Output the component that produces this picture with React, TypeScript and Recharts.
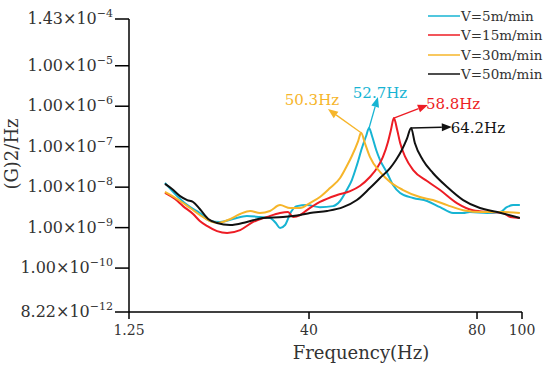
import { LineChart, Line, XAxis, YAxis, Legend, ReferenceLine, ReferenceDot } from "recharts";

const FONT = "'DejaVu Serif', 'Liberation Serif', serif";

// V = 5 m/min
const v5Freq = [5.7, 8.6, 11.7, 14.0, 16.4, 18.8, 21.9, 25.2, 28.3, 30.7, 32.1, 33.1, 34.3, 35.7, 37.1, 39.5, 42.6, 45.7, 47.4, 49.0, 50.2, 51.4, 52.6, 53.6, 54.3, 55.0, 56.0, 56.9, 58.6, 60.0, 61.7, 64.8, 68.1, 71.2, 74.3, 76.7, 78.3, 82.4, 85.5, 87.1, 88.6, 90.2];
const v5Psd = [1.27e-8, 6.0e-9, 3.2e-9, 2.3e-9, 1.46e-9, 1.38e-9, 1.63e-9, 1.94e-9, 1.83e-9, 1.73e-9, 1.3e-9, 9.8e-10, 1.16e-9, 2.43e-9, 3.4e-9, 3.6e-9, 3.2e-9, 3.4e-9, 4.55e-9, 8.5e-9, 1.5e-8, 3.5e-8, 9.3e-8, 1.84e-7, 2.9e-7, 1.84e-7, 8.3e-8, 4.7e-8, 2.24e-8, 1.13e-8, 7.2e-9, 5.4e-9, 4.55e-9, 3.2e-9, 2.3e-9, 2.3e-9, 2.43e-9, 2.3e-9, 2.43e-9, 3.2e-9, 3.6e-9, 3.6e-9];

// V = 15 m/min
const v15Freq = [5.7, 8.1, 10.0, 12.4, 14.0, 15.7, 18.1, 20.5, 23.6, 26.7, 30.0, 33.1, 35.0, 36.2, 37.9, 39.5, 42.6, 46.7, 49.8, 52.1, 54.5, 56.2, 57.6, 58.8, 59.5, 60.2, 61.0, 61.7, 62.9, 64.8, 68.1, 71.2, 75.2, 79.0, 83.1, 86.2, 87.9, 90.2];
const v15Psd = [7.2e-9, 5.1e-9, 3.4e-9, 2.17e-9, 1.46e-9, 1.1e-9, 8.2e-10, 7.4e-10, 8.7e-10, 1.38e-9, 1.83e-9, 2.3e-9, 2.43e-9, 1.83e-9, 2.05e-9, 2.7e-9, 4.3e-9, 6.4e-9, 8.0e-9, 1.07e-8, 1.78e-8, 2.97e-8, 5.6e-8, 1.31e-7, 2.58e-7, 5.1e-7, 2.58e-7, 1.23e-7, 5.6e-8, 2.65e-8, 1.42e-8, 8.5e-9, 4.05e-9, 2.7e-9, 2.43e-9, 2.3e-9, 1.83e-9, 1.73e-9];

// V = 30 m/min
const v30Freq = [5.7, 8.6, 11.7, 14.0, 16.4, 18.3, 20.7, 23.6, 26.0, 28.3, 30.7, 33.1, 35.5, 37.9, 40.2, 42.6, 45.0, 47.4, 49.0, 50.2, 51.7, 52.4, 53.3, 54.5, 56.9, 59.3, 62.4, 66.4, 69.5, 72.9, 76.7, 81.4, 86.2, 90.2];
const v30Psd = [7.6e-9, 5.1e-9, 3.05e-9, 2.05e-9, 1.46e-9, 1.3e-9, 1.54e-9, 2.17e-9, 2.58e-9, 2.3e-9, 2.58e-9, 3.6e-9, 3.05e-9, 3.05e-9, 4.05e-9, 5.7e-9, 9.5e-9, 1.68e-8, 3.33e-8, 5.9e-8, 1.38e-7, 2.2e-7, 1.23e-7, 5.6e-8, 2.37e-8, 1.34e-8, 8.5e-9, 5.7e-9, 4.8e-9, 3.6e-9, 2.7e-9, 2.43e-9, 2.43e-9, 2.3e-9];

// V = 50 m/min
const v50Freq = [5.7, 7.4, 9.3, 11.0, 12.4, 14.0, 16.0, 18.1, 21.2, 25.2, 29.0, 33.8, 37.9, 40.2, 44.3, 48.1, 51.4, 54.5, 56.9, 59.3, 60.7, 62.1, 63.3, 64.3, 65.2, 67.1, 69.5, 72.9, 76.7, 80.7, 84.8, 90.2];
const v50Psd = [1.2e-8, 9.0e-9, 6.0e-9, 4.8e-9, 4.3e-9, 2.88e-9, 1.63e-9, 1.3e-9, 1.16e-9, 1.38e-9, 1.73e-9, 1.83e-9, 2.05e-9, 2.3e-9, 2.58e-9, 3.2e-9, 4.8e-9, 9.5e-9, 1.68e-8, 2.97e-8, 4.7e-8, 8.3e-8, 1.55e-7, 2.9e-7, 1.23e-7, 4.7e-8, 2.24e-8, 1.01e-8, 4.8e-9, 3.05e-9, 2.43e-9, 1.73e-9];

// axes (the x axis of the original is not uniform, so end ticks carry their printed labels)
const xTickValues = [-2.86, 40, 80, 90.71];
const xTickLabels = ["1.25", "40", "80", "100"];
const yTicks = [8.22e-12, 1e-10, 1e-9, 1e-8, 1e-7, 1e-6, 1e-5, 1.43e-4];

// peak annotations: [peak f, peak psd], arrow tip, label centre
const peakLabels = ["50.3Hz", "52.7Hz", "58.8Hz", "64.2Hz"];
const peakPoints = [[52.4, 2.2e-7], [54.3, 2.9e-7], [60.2, 5.1e-7], [64.3, 2.9e-7]];
const arrowTips = [[44.5, 8.5e-7], [56.4, 1.69e-6], [68.3, 1.07e-6], [74.0, 3.06e-7]];
const labelPoints = [[40.7, 1.42e-6], [56.9, 2.12e-6], [74.3, 1.14e-6], [80.2, 2.9e-7]];

const zip = (f: number[], p: number[]) => f.map((x, i) => ({ f: x, psd: p[i] }));

const series = [
  { name: "V=5m/min", color: "#17b4d3", data: zip(v5Freq, v5Psd) },
  { name: "V=15m/min", color: "#ed1c24", data: zip(v15Freq, v15Psd) },
  { name: "V=30m/min", color: "#f6b52a", data: zip(v30Freq, v30Psd) },
  { name: "V=50m/min", color: "#111111", data: zip(v50Freq, v50Psd) },
];
const peakColors = ["#f6b52a", "#17b4d3", "#ed1c24", "#111111"];

const YTick = (props: any) => {
  const { x, y, payload } = props;
  const [m, e] = Number(payload.value).toExponential(2).split("e");
  const exp = String(Number(e)).replace("-", "\u2212");
  return (
    <text x={x} y={y} dy={5} textAnchor="end" fontFamily={FONT} fontSize={16} fill="#333">
      {m}×10
      <tspan dy={-7} fontSize={11}>{exp}</tspan>
    </text>
  );
};

const arrowShape = (color: string) => (props: any) => {
  const { x1, y1, x2, y2 } = props;
  const a = Math.atan2(y2 - y1, x2 - x1);
  const L = 10;
  const W = 4;
  const bx = x2 - L * Math.cos(a);
  const by = y2 - L * Math.sin(a);
  const pts = `${x2},${y2} ${bx + W * Math.sin(a)},${by - W * Math.cos(a)} ${bx - W * Math.sin(a)},${by + W * Math.cos(a)}`;
  return (
    <g>
      <line x1={x1} y1={y1} x2={bx} y2={by} stroke={color} strokeWidth={1.3} />
      <polygon points={pts} fill={color} />
    </g>
  );
};

const renderLegend = () => (
  <div style={{ fontFamily: FONT, fontSize: 13.5, color: "#333" }}>
    {series.map((s) => (
      <div key={s.name} style={{ display: "flex", alignItems: "center", height: 19.5 }}>
        <span style={{ display: "inline-block", width: 32, borderTop: `2px solid ${s.color}`, opacity: 0.75, marginRight: 1 }} />
        {s.name}
      </div>
    ))}
  </div>
);

export default function App() {
  return (
    <div style={{ position: "absolute", left: 0, top: 0 }}>
      <LineChart width={550} height={372} margin={{ top: 19, right: 28, bottom: 0, left: 0 }}>
        <XAxis
          type="number"
          dataKey="f"
          domain={[xTickValues[0], xTickValues[3]]}
          ticks={xTickValues}
          tickFormatter={(v: number) => xTickLabels[xTickValues.indexOf(v)]}
          allowDataOverflow
          height={60}
          tickSize={7}
          tickMargin={6}
          stroke="#000"
          strokeWidth={1.5}
          tick={{ fill: "#333", fontSize: 14, fontFamily: FONT }}
          label={{
            content: (p: any) => (
              <text x={p.viewBox.x + 232} y={p.viewBox.y + 47} textAnchor="middle" fontFamily={FONT} fontSize={18} fill="#333">
                Frequency(Hz)
              </text>
            ),
          }}
        />
        <YAxis
          type="number"
          scale="log"
          domain={[yTicks[0], yTicks[yTicks.length - 1]]}
          ticks={yTicks}
          allowDataOverflow
          width={129}
          tickSize={14}
          tickMargin={2}
          stroke="#000"
          strokeWidth={1.5}
          tick={<YTick />}
          label={{
            content: () => (
              <text x={18} y={154} transform="rotate(-90 18 154)" textAnchor="middle" fontFamily={FONT} fontSize={18} fill="#333">
                (G)2/Hz
              </text>
            ),
          }}
        />
        <Legend
          layout="horizontal"
          verticalAlign="middle"
          align="center"
          content={renderLegend}
          wrapperStyle={{ position: "absolute", top: 6, left: 428, width: 122, height: 80 }}
        />
        {series.map((s) => (
          <Line
            key={s.name}
            data={s.data}
            dataKey="psd"
            name={s.name}
            type="monotone"
            stroke={s.color}
            strokeWidth={2}
            dot={false}
            isAnimationActive={false}
          />
        ))}
        {peakLabels.map((lab, i) => (
          <ReferenceLine
            key={"a" + lab}
            segment={[
              { x: peakPoints[i][0], y: peakPoints[i][1] },
              { x: arrowTips[i][0], y: arrowTips[i][1] },
            ]}
            ifOverflow="visible"
            shape={arrowShape(peakColors[i])}
          />
        ))}
        {peakLabels.map((lab, i) => (
          <ReferenceDot
            key={"l" + lab}
            x={labelPoints[i][0]}
            y={labelPoints[i][1]}
            r={0}
            fill="none"
            stroke="none"
            ifOverflow="visible"
            label={{ value: lab, position: "center", fill: peakColors[i], fontSize: 15, fontFamily: FONT }}
          />
        ))}
      </LineChart>
    </div>
  );
}
